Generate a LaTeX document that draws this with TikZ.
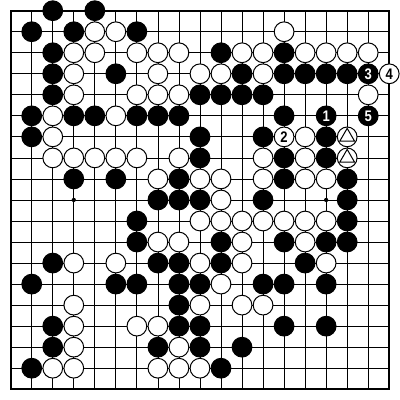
\documentclass[tikz,border=0pt]{standalone}
\usepackage{fontspec}
\newfontfamily\lblfont{Liberation Sans}[FakeStretch=0.85]
\begin{document}
\begin{tikzpicture}[x=0.75pt,y=0.75pt,
  stone/.style={circle,draw=black,line width=0.75pt,minimum size=14.8pt,inner sep=0pt,
    font=\lblfont\bfseries\fontsize{11.5}{12}\selectfont},
  bstone/.style={stone,fill=black,text=white},
  wstone/.style={stone,fill=white,text=black},
  gridline/.style={line width=0.6pt},
  edgeline/.style={line width=1.5pt},
  trimark/.style={line width=0.75pt}]
\useasboundingbox (0,0) rectangle (400,400);
\fill[white] (0,0) rectangle (400,400);
\begin{scope}[shift={(10.7,389.3)},x=15.7725pt,y=-15.7725pt]
  \foreach \i in {1,...,17} {
    \draw[gridline] (\i,0) -- (\i,18);
    \draw[gridline] (0,\i) -- (18,\i);
  }
  \draw[edgeline] (0,0) rectangle (18,18);
  \fill (3,9) circle (1.6pt);
  \fill (15,9) circle (1.6pt);
  % black stones
  \foreach \c/\r in {2/0,4/0,
    1/1,3/1,6/1,
    2/2,10/2,13/2,
    2/3,5/3,11/3,13/3,14/3,15/3,16/3,
    2/4,9/4,10/4,11/4,12/4,
    1/5,3/5,4/5,6/5,7/5,8/5,13/5,
    1/6,9/6,12/6,15/6,
    9/7,13/7,15/7,
    3/8,5/8,8/8,13/8,16/8,
    7/9,8/9,9/9,12/9,16/9,
    6/10,16/10,
    6/11,10/11,13/11,15/11,16/11,
    2/12,7/12,8/12,10/12,14/12,
    1/13,5/13,6/13,8/13,9/13,12/13,13/13,15/13,
    8/14,
    2/15,8/15,9/15,13/15,15/15,
    2/16,7/16,9/16,11/16,
    1/17,10/17}
    \node[bstone] (b\c-\r) at (\c,\r) {};
  % white stones
  \foreach \c/\r in {4/1,5/1,13/1,
    3/2,4/2,6/2,7/2,8/2,11/2,12/2,14/2,15/2,16/2,17/2,
    3/3,7/3,9/3,10/3,12/3,
    3/4,6/4,7/4,8/4,17/4,
    2/5,5/5,
    2/6,14/6,
    2/7,3/7,4/7,5/7,6/7,8/7,12/7,14/7,
    7/8,9/8,10/8,12/8,14/8,15/8,
    10/9,
    9/10,10/10,11/10,12/10,13/10,14/10,15/10,
    7/11,8/11,11/11,14/11,
    3/12,5/12,9/12,11/12,15/12,
    10/13,
    3/14,9/14,11/14,12/14,
    3/15,6/15,7/15,
    3/16,8/16,
    2/17,3/17,7/17,8/17,9/17}
    \node[wstone] (w\c-\r) at (\c,\r) {};
  % numbered stones
  \node[bstone] (m1) at (15,5) {1};
  \node[wstone] (m2) at (13,6) {2};
  \node[bstone] (m3) at (17,3) {3};
  \node[wstone] (m4) at (18,3) {4};
  \node[bstone] (m5) at (17,5) {5};
  % triangle-marked white stones
  \node[wstone] (t1) at (16,6) {};
  \node[wstone] (t2) at (16,7) {};
  \foreach \t in {t1,t2}
    \draw[trimark] (\t.center) +(90:6.4pt) -- +(210:6.4pt) -- +(330:6.4pt) -- cycle;
\end{scope}
\end{tikzpicture}
\end{document}
